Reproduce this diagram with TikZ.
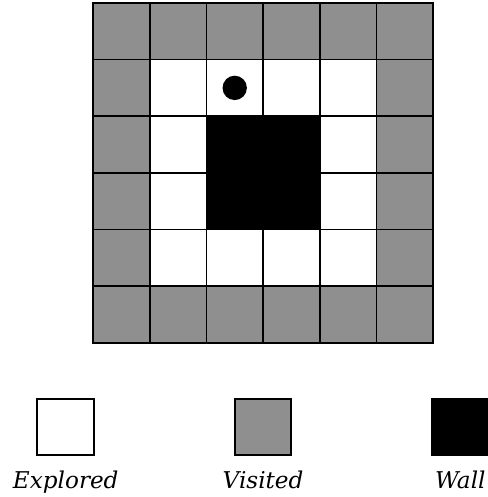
\documentclass[tikz,border=0pt]{standalone}
\usepackage{fontspec}
\newfontfamily\lblfont{DejaVu Serif}
\usetikzlibrary{fit}

\definecolor{visitgray}{RGB}{143,143,143}

\begin{document}
\begin{tikzpicture}[
    % Grid cells: unit squares, lines drawn afterwards
    cell/.style={rectangle, inner sep=0pt, minimum size=1cm},
    explored/.style={cell, fill=white},
    visited/.style={cell, fill=visitgray},
    wall/.style={rectangle, fill=black, inner sep=0pt},
    gridline/.style={line width=0.85pt},
    % Agent marker
    agent/.style={circle, fill=black, inner sep=0pt, minimum size=0.43cm},
    % Legend boxes and labels
    legend/.style={draw, line width=1pt},
    lbl/.style={font=\lblfont\itshape\fontsize{11.6}{13}\selectfont, anchor=base},
]
\useasboundingbox (-1.64,-2.716) rectangle (6.95,6.05);

% ============================================================
% GRID: border cells visited, inner cells explored
% ============================================================
\foreach \x in {0,...,5}
  \foreach \y in {0,...,5} {
    \pgfmathparse{ifthenelse(\x==0 || \x==5 || \y==0 || \y==5,"visited","explored")}
    \node[\pgfmathresult] (c\x\y) at (\x+0.5,\y+0.5) {};
  }

% Wall block in the middle
\node[wall, fit=(c22)(c33)] (block) {};

% Grid lines and outer frame on top
\draw[gridline] (0,0) grid (6,6);
\draw[gridline] (c00.south west) rectangle (c55.north east);

% Agent
\node[agent] (bot) at (c24) {};

% ============================================================
% LEGEND
% ============================================================
\node[explored, legend] (lexp) at (-0.48,-1.48) {};
\node[visited, legend] (lvis) at (3.0,-1.48) {};
\node[cell, fill=black, legend] (lwall) at (6.48,-1.48) {};

\node[lbl] (lexpt) at (-0.48,-2.56) {Explored};
\node[lbl] (lvist) at (3.0,-2.56) {Visited};
\node[lbl] (lwallt) at (6.48,-2.56) {Wall};

\end{tikzpicture}
\end{document}
